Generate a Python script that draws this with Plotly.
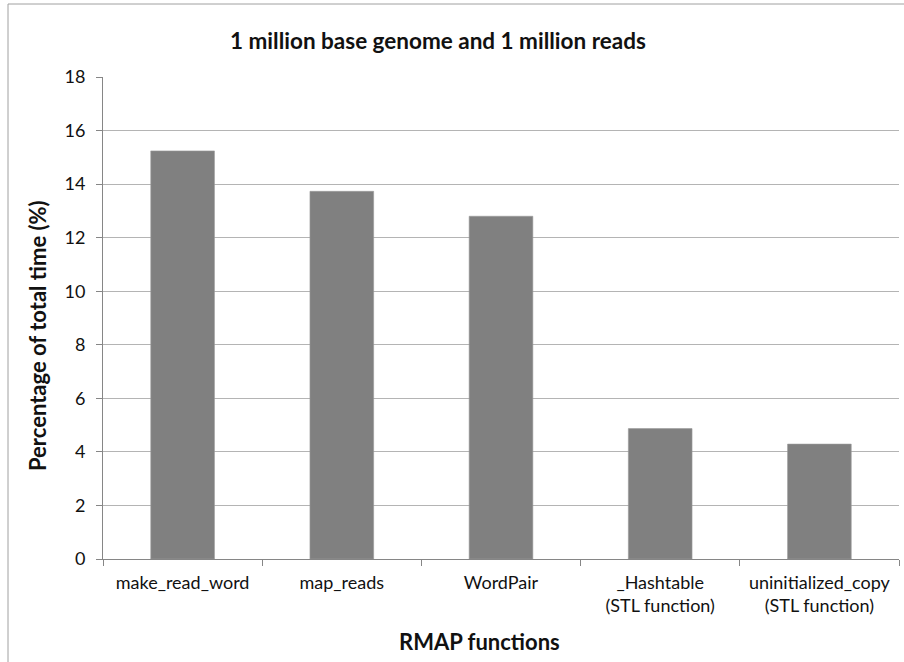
import plotly.graph_objects as go

# Share of total runtime spent in each RMAP function
functions = [
    "make_read_word",
    "map_reads",
    "WordPair",
    "_Hashtable<br>(STL function)",
    "uninitialized_copy<br>(STL function)",
]
percent_time = [15.24, 13.73, 12.80, 4.87, 4.29]
y_ticks = [0, 2, 4, 6, 8, 10, 12, 14, 16, 18]

W, H = 904, 662
L, R, T, B = 103, 5, 77, 103
PW, PH = W - L - R, H - T - B


def px(x):
    return (x - L) / PW


def py(y):
    return (H - B - y) / PH


FONT = "Lato, 'Open Sans', sans-serif"

fig = go.Figure(
    go.Bar(
        x=functions,
        y=percent_time,
        width=0.4,
        marker=dict(color="#808080", line=dict(color="#9a9a9a", width=0.6)),
        hoverinfo="x+y",
    )
)

fig.update_layout(
    width=W,
    height=H,
    margin=dict(l=L, r=R, t=T, b=B),
    paper_bgcolor="white",
    plot_bgcolor="white",
    showlegend=False,
    font=dict(family=FONT, size=18, color="#111111"),
    xaxis=dict(
        type="category",
        showline=True,
        linecolor="#868686",
        linewidth=1,
        ticks="outside",
        tickson="boundaries",
        ticklen=6,
        tickcolor="#868686",
        showgrid=False,
        tickfont=dict(size=18),
        ticklabelstandoff=7,
    ),
    yaxis=dict(
        range=[0, 18],
        tickvals=y_ticks,
        showline=True,
        linecolor="#868686",
        linewidth=1,
        ticks="outside",
        ticklen=6,
        tickcolor="#868686",
        showgrid=True,
        gridcolor="#b4b4b4",
        gridwidth=1,
        zeroline=False,
        tickfont=dict(size=18),
        ticklabelstandoff=7,
    ),
    shapes=[
        dict(
            type="rect",
            xref="paper",
            yref="paper",
            x0=px(8),
            x1=px(W + 10),
            y0=py(H + 10),
            y1=py(4),
            line=dict(color="#a0a0a0", width=1),
            fillcolor="rgba(0,0,0,0)",
            layer="below",
        )
    ],
    annotations=[
        dict(
            text="<b>1 million base genome and 1 million reads</b>",
            xref="paper",
            yref="paper",
            x=px(438),
            y=py(40),
            showarrow=False,
            font=dict(size=22.5, family=FONT),
            xanchor="center",
            yanchor="middle",
        ),
        dict(
            text="<b>Percentage of total time (%)</b>",
            xref="paper",
            yref="paper",
            x=px(37),
            y=py(336),
            textangle=-90,
            showarrow=False,
            font=dict(size=22, family=FONT),
            xanchor="center",
            yanchor="middle",
        ),
        dict(
            text="<b>RMAP functions</b>",
            xref="paper",
            yref="paper",
            x=px(479),
            y=py(641),
            showarrow=False,
            font=dict(size=22, family=FONT),
            xanchor="center",
            yanchor="middle",
        ),
    ],
)

fig.write_html("out.html")
